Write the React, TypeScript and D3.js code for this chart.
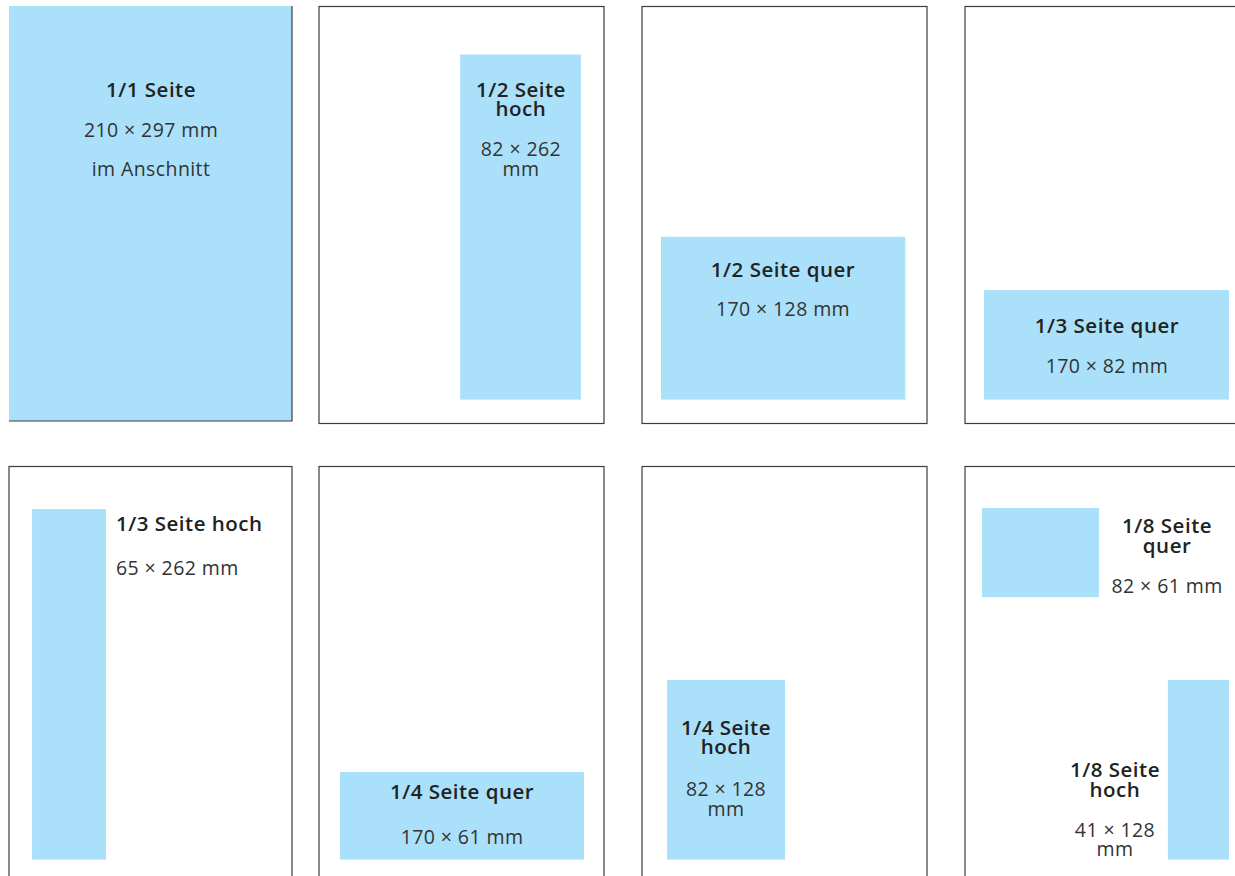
import React from 'react';
import * as d3 from 'd3';

// page formats, in mm on a 210 x 297 page
const adTitles = [
  ['1/1 Seite'],
  ['1/2 Seite', 'hoch'],
  ['1/2 Seite quer'],
  ['1/3 Seite quer'],
  ['1/3 Seite hoch'],
  ['1/4 Seite quer'],
  ['1/4 Seite', 'hoch'],
  ['1/8 Seite', 'quer'],
  ['1/8 Seite', 'hoch'],
];
const adSizes = [
  ['210 × 297 mm', 'im Anschnitt'],
  ['82 × 262', 'mm'],
  ['170 × 128 mm'],
  ['170 × 82 mm'],
  ['65 × 262 mm'],
  ['170 × 61 mm'],
  ['82 × 128', 'mm'],
  ['82 × 61 mm'],
  ['41 × 128', 'mm'],
];
// which page each ad sits on
const adPage = [0, 1, 2, 3, 4, 5, 6, 7, 7];
// ad extent on the page (mm)
const adX0 = [0, 104, 14, 14, 17.1, 15.5, 18.5, 12.5, 149.5];
const adX1 = [210, 193, 194, 194.5, 72, 195.3, 105.4, 98.7, 194.5];
const adY0 = [0, 34.2, 164, 202, 30.3, 217.6, 152, 29.6, 152];
const adY1 = [297, 280, 280, 280, 280, 280, 280, 93, 280];

// label placement (mm) and spacing
const labelX = [105.4, 148.8, 103.9, 104.6, 79.4, 105.4, 61.9, 148.9, 110.5];
const labelY = [65.1, 64.2, 192.4, 232.5, 45.7, 237, 191.2, 47.4, 221.2];
const labelAnchor = ['middle', 'middle', 'middle', 'middle', 'start', 'middle', 'middle', 'middle', 'middle'];
const titleGap = [40, 40, 39, 40, 44.5, 45, 42, 40, 40];
const sizeGap = [39, 19.5, 19.5, 19.5, 19.5, 19.5, 19.5, 19.5, 19.5];

const pageLeft = [9, 319, 642, 965];
const pageWidth = [283, 285, 285, 285];
const rowTop = [6.5, 466.5];
const pageHeight = 417;

const BLUE = '#abe0fa';
const LINE = '#3c3c3c';
const FONT = '"Open Sans", "Noto Sans", sans-serif';

const pageScales = (p: number) => {
  const col = p % 4;
  const row = Math.floor(p / 4);
  let top = rowTop[row];
  let h = pageHeight;
  if (p === 0) {
    top = 6;
    h = 415;
  }
  const x = d3.scaleLinear().domain([0, 210]).range([pageLeft[col], pageLeft[col] + pageWidth[col]]);
  const y = d3.scaleLinear().domain([0, 297]).range([top, top + h]);
  return { x, y };
};

const App = () => {
  const pages = d3.range(8);
  const bleed = pageScales(0);

  return (
    <svg
      width={1235}
      height={876}
      style={{ position: 'absolute', left: 0, top: 0, background: '#fff' }}
    >
      {pages
        .filter((p) => p > 0)
        .map((p) => {
          const { x, y } = pageScales(p);
          return (
            <rect
              key={p}
              x={x(0)}
              y={y(0)}
              width={x(210) - x(0)}
              height={y(297) - y(0)}
              fill="#fff"
              stroke={LINE}
              strokeWidth={1.2}
            />
          );
        })}

      {adTitles.map((title, i) => {
        const { x, y } = pageScales(adPage[i]);
        return (
          <rect
            key={'ad' + i}
            x={x(adX0[i])}
            y={y(adY0[i])}
            width={x(adX1[i]) - x(adX0[i])}
            height={y(adY1[i]) - y(adY0[i])}
            fill={BLUE}
          />
        );
      })}
      {/* bleed page: only right and bottom edge show */}
      <path
        d={`M${bleed.x(210)},${bleed.y(0)}V${bleed.y(297)}H${bleed.x(0)}`}
        fill="none"
        stroke={LINE}
        strokeWidth={1.2}
      />

      {adTitles.map((title, i) => {
        const { x, y } = pageScales(adPage[i]);
        const lx = x(labelX[i]);
        const ly = y(labelY[i]);
        const lastTitle = ly + (title.length - 1) * 19.5;
        return (
          <g key={'lbl' + i} textAnchor={labelAnchor[i]} fontFamily={FONT}>
            <text x={lx} y={ly} fontSize={20.5} fontWeight={600} fill="#222" letterSpacing={0.5}>
              {title.map((t, j) => (
                <tspan key={j} x={lx} y={ly + j * 19.5}>
                  {t}
                </tspan>
              ))}
            </text>
            <text
              x={lx}
              y={lastTitle + titleGap[i]}
              fontSize={19.5}
              fill="#333"
              letterSpacing={0.4}
            >
              {adSizes[i].map((s, j) => (
                <tspan key={j} x={lx} y={lastTitle + titleGap[i] + j * sizeGap[i]}>
                  {s}
                </tspan>
              ))}
            </text>
          </g>
        );
      })}
    </svg>
  );
};

export default App;
